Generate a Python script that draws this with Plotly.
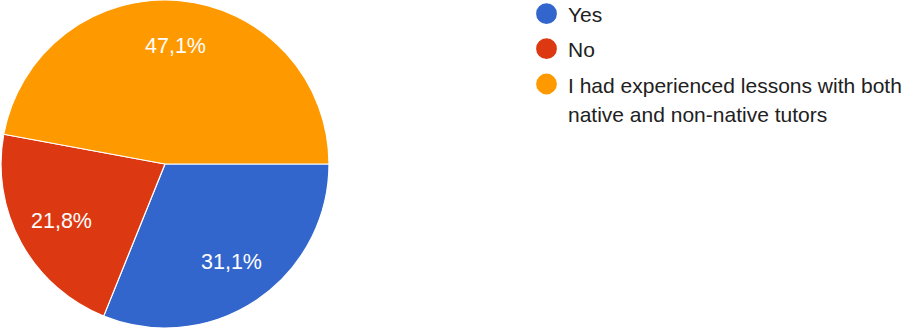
import math
import plotly.graph_objects as go

W, H = 914, 328

labels = ["Yes", "No", "I had experienced lessons with both<br>native and non-native tutors"]
shares = [31.1, 21.8, 47.1]
colors = ["#3366CC", "#DC3912", "#FF9900"]

FONT = "Liberation Sans, Arial, sans-serif"

# Pie geometry in pixels (domain spans the left 330px, full height)
dom_x = [0, 330 / W]
pie_cx, pie_cy, pie_r = 165, H / 2, H / 2
label_frac = 0.72

fig = go.Figure()
fig.add_trace(go.Pie(
    labels=labels,
    values=shares,
    sort=False,
    direction="clockwise",
    rotation=90,
    marker=dict(colors=colors, line=dict(color="white", width=1.2)),
    textinfo="none",
    showlegend=False,
    hoverinfo="label+percent",
    domain=dict(x=dom_x, y=[0, 1]),
))

annotations = []
shapes = []

# Percentage labels at the middle angle of each slice (clockwise from 3 o'clock)
total = sum(shares)
start = 0.0
for v in shares:
    mid = start + v / total * 360 / 2
    start += v / total * 360
    a = math.radians(mid)
    px = pie_cx + label_frac * pie_r * math.cos(a)
    py = pie_cy + label_frac * pie_r * math.sin(a)
    annotations.append(dict(
        text=f"{v / total * 100:.1f}%".replace(".", ","),
        xref="paper", yref="paper", x=px / W, y=1 - py / H,
        xanchor="center", yanchor="middle", showarrow=False,
        font=dict(size=21.5, color="white", family=FONT),
    ))

# Legend drawn by hand: round swatch followed by the label text
row_y = [13.7, 48.7, 84]
line_gap = 29.5
cx, rad = 546.5, 10.4
for lab, col, yc in zip(labels, colors, row_y):
    shapes.append(dict(
        type="circle", xref="paper", yref="paper",
        x0=(cx - rad) / W, x1=(cx + rad) / W,
        y0=1 - (yc + rad) / H, y1=1 - (yc - rad) / H,
        fillcolor=col, line=dict(width=0),
    ))
    for i, part in enumerate(lab.split("<br>")):
        annotations.append(dict(
            text=part, xref="paper", yref="paper",
            x=566 / W, y=1 - (yc + 1 + i * line_gap) / H,
            xanchor="left", yanchor="middle", showarrow=False,
            font=dict(size=21, color="#212121", family=FONT),
        ))

fig.update_layout(
    width=W, height=H,
    margin=dict(l=0, r=0, t=0, b=0),
    paper_bgcolor="white",
    plot_bgcolor="white",
    shapes=shapes,
    annotations=annotations,
)

fig.write_html("out.html")
